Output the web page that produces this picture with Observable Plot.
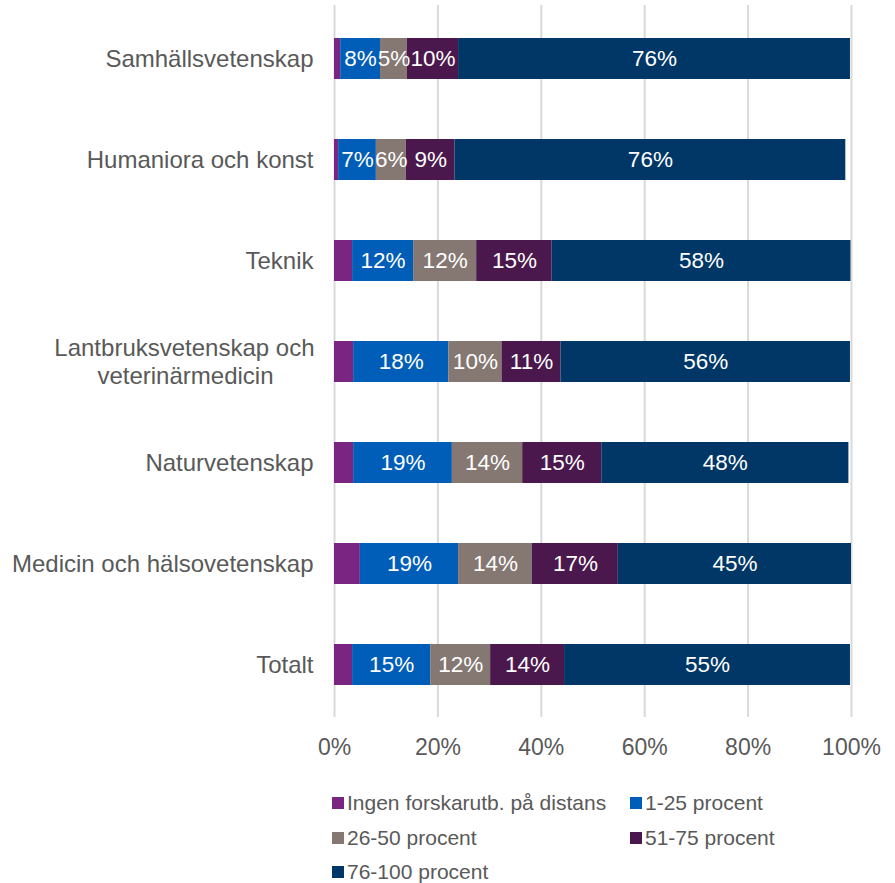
<!DOCTYPE html>
<html>
<head>
<meta charset="utf-8">
<script src="https://cdn.jsdelivr.net/npm/d3@7"></script>
<script src="https://cdn.jsdelivr.net/npm/@observablehq/plot@0.6"></script>
<style>
  body { margin: 0; background: #fff; font-family: "Liberation Sans", Arial, sans-serif; }
  #legend { position: relative; width: 895px; height: 108px; }
  .item { position: absolute; display: flex; align-items: center; font-size: 21px; color: #595959; white-space: nowrap; }
  .sw { width: 12px; height: 12px; margin-right: 3px; }
</style>
</head>
<body>
<div id="chart"></div>
<div id="legend"></div>
<script>
const categories = ["Samhällsvetenskap", "Humaniora och konst", "Teknik", "Lantbruksvetenskap och veterinärmedicin", "Naturvetenskap", "Medicin och hälsovetenskap", "Totalt"];
const series = ["Ingen forskarutb. på distans", "1-25 procent", "26-50 procent", "51-75 procent", "76-100 procent"];
const colors = ["#7a2582", "#005eb8", "#857873", "#4b184d", "#003767"];

const ingen   = [1.2, 0.8, 3.5, 3.7, 3.7, 5.0, 3.5];
const p1_25   = [7.7, 7.3, 11.8, 18.4, 19.1, 19.0, 15.1];
const p26_50  = [5.2, 5.8, 12.2, 10.3, 13.6, 14.3, 11.6];
const p51_75  = [9.9, 9.4, 14.6, 11.4, 15.3, 16.6, 14.3];
const p76_100 = [75.8, 75.6, 57.8, 56.0, 47.8, 45.1, 55.3];
const xTicks = [0, 20, 40, 60, 80, 100];

const valuesBySeries = [ingen, p1_25, p26_50, p51_75, p76_100];
const data = [];
categories.forEach((c, i) => {
  series.forEach((s, j) => data.push({cat: c, series: s, value: valuesBySeries[j][i]}));
});

const lantbruk = categories[3];
const lantLines = ["Lantbruksvetenskap och", "veterinärmedicin"];

const W = 895, H = 775;
const chart = Plot.plot({
  width: W,
  height: H,
  marginLeft: 334,
  marginRight: 44,
  marginTop: 5,
  marginBottom: H - 717,
  style: {fontFamily: "'Liberation Sans', Arial, sans-serif", background: "white", overflow: "visible"},
  x: {domain: [0, 100], axis: null},
  y: {domain: categories, paddingInner: 0.597, paddingOuter: 0.305, axis: null},
  color: {domain: series, range: colors},
  marks: [
    Plot.gridX(xTicks, {stroke: "#d9d9d9", strokeOpacity: 1, strokeWidth: 2}),
    Plot.barX(data, Plot.stackX({x: "value", y: "cat", fill: "series", order: null})),
    Plot.textX(data, Plot.stackX({
      x: "value", y: "cat", z: "series", order: null,
      text: d => d.series === series[0] ? "" : Math.round(d.value) + "%",
      fill: "white", fontSize: 22.5
    })),
    Plot.axisX({ticks: xTicks, tickSize: 0, tickPadding: 21, fontSize: 23, fill: "#595959", label: null, tickFormat: d => d + "%"}),
    Plot.axisY({tickSize: 0, tickPadding: 21, fontSize: 24, fill: "#595959", label: null, tickFormat: d => d === lantbruk ? "" : d}),
    Plot.text([lantbruk], {x: 0, y: d => d, text: () => lantLines[0], dx: -20, dy: -14, textAnchor: "end", fontSize: 24, fill: "#595959"}),
    Plot.text([lantbruk], {x: 0, y: d => d, text: () => lantLines[1], dx: -61, dy: 14, textAnchor: "end", fontSize: 24, fill: "#595959"})
  ]
});
document.getElementById("chart").appendChild(chart);

const legend = document.getElementById("legend");
const pos = [[332, 28], [630, 28], [332, 63], [630, 63], [332, 97]];
series.forEach((s, j) => {
  const el = document.createElement("div");
  el.className = "item";
  el.style.left = pos[j][0] + "px";
  el.style.top = (pos[j][1] - 12) + "px";
  el.style.height = "24px";
  el.innerHTML = `<span class="sw" style="background:${colors[j]}"></span><span>${s}</span>`;
  legend.appendChild(el);
});
</script>
</body>
</html>
